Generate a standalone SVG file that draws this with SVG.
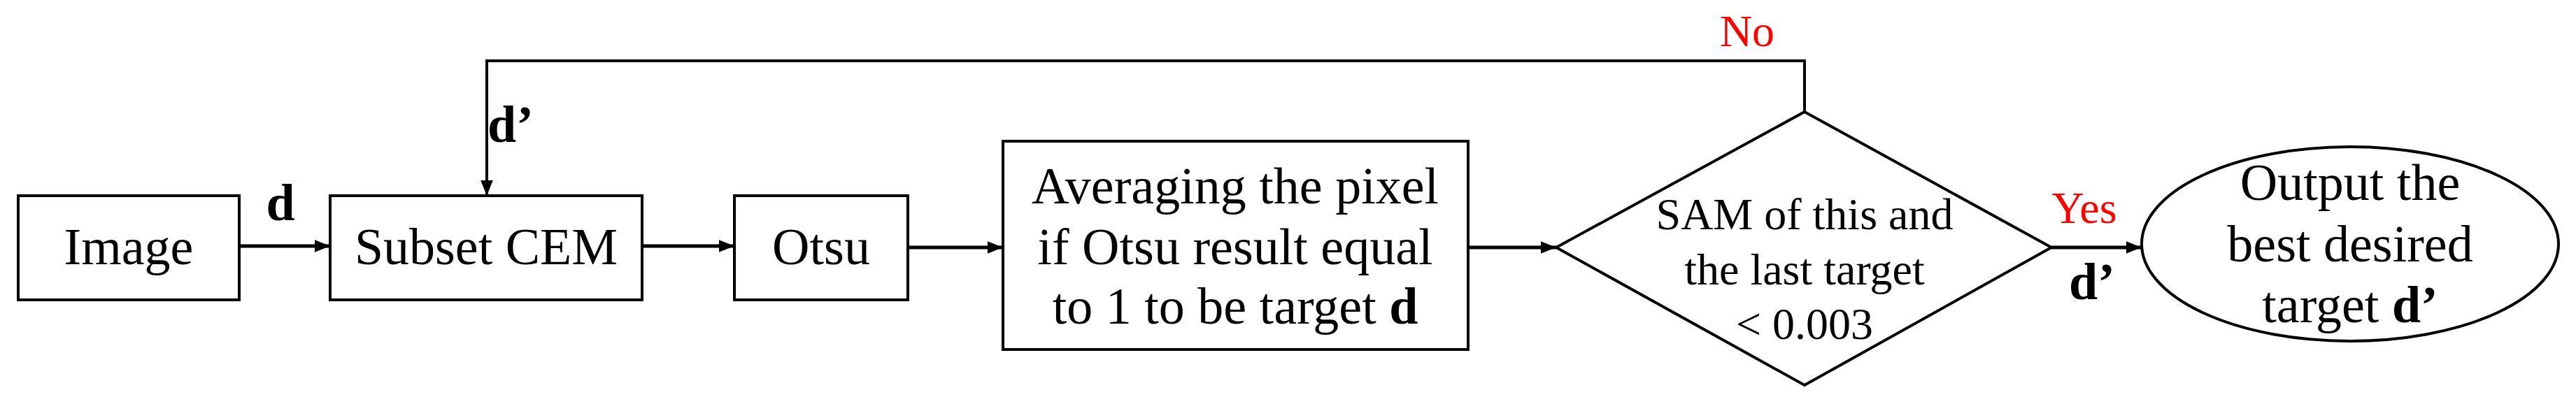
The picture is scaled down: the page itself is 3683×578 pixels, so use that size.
<svg xmlns="http://www.w3.org/2000/svg" width="3683" height="578" viewBox="0 0 3683 578">
<defs>
<marker id="ah" markerWidth="10" markerHeight="8" refX="10" refY="4" orient="auto" markerUnits="userSpaceOnUse"><path d="M0,0 L10,4 L0,8 Z" fill="#000"/></marker>
<marker id="ab" viewBox="0 0 10 8" markerWidth="22" markerHeight="18" refX="10" refY="4" orient="auto" markerUnits="userSpaceOnUse"><path d="M0,0 L10,4 L0,8 Z" fill="#000"/></marker>
</defs>
<style>
.n{fill:#fff;stroke:#000;stroke-width:4}
.t{font-family:"Liberation Serif",serif;font-size:74px;text-anchor:middle;fill:#000}
.s{font-size:64px}
.b{font-weight:bold}
.r{fill:#f00}
.c{fill:none;stroke:#000;stroke-width:5}
.l{fill:none;stroke:#000;stroke-width:4}
</style>
<rect width="3683" height="578" fill="#fff"/>
<g id="connectors">
<path class="c" d="M342,352 H472" marker-end="url(#ab)"/>
<path class="c" d="M918,352 H1050" marker-end="url(#ab)"/>
<path class="c" d="M1298,354 H1434" marker-end="url(#ab)"/>
<path class="c" d="M2099,354 H2225" marker-end="url(#ab)"/>
<path class="c" d="M2933,354 H3062" marker-end="url(#ab)"/>
<path class="l" d="M2580,160 V87 H696 V280" marker-end="url(#ab)"/>
<text class="t b" x="401" y="315">d</text>
<text class="t b" x="730" y="203">d’</text>
<text class="t r s" x="2498" y="66">No</text>
<text class="t r s" x="2980" y="319">Yes</text>
<text class="t b" x="2991" y="428">d’</text>
</g>
<g id="image"><rect class="n" x="26" y="280" width="316" height="149"/><text class="t" x="184" y="378">Image</text></g>
<g id="subset"><rect class="n" x="472" y="280" width="446" height="149"/><text class="t" x="695" y="378">Subset CEM</text></g>
<g id="otsu"><rect class="n" x="1050" y="280" width="248" height="149"/><text class="t" x="1174" y="378">Otsu</text></g>
<g id="averaging"><rect class="n" x="1434" y="202" width="665" height="298"/>
<text class="t" x="1766" y="291">Averaging the pixel</text>
<text class="t" x="1766" y="378">if Otsu result equal</text>
<text class="t" x="1766" y="463">to 1 to be target <tspan class="b">d</tspan></text></g>
<g id="decision"><polygon class="n" points="2580,160 2933,354 2580,551 2225,354"/>
<text class="t s" x="2580" y="328">SAM of this and</text>
<text class="t s" x="2580" y="407">the last target</text>
<text class="t s" x="2580" y="485">&lt; 0.003</text></g>
<g id="output"><ellipse class="n" cx="3360" cy="349" rx="298" ry="139"/>
<text class="t" x="3360" y="286">Output the</text>
<text class="t" x="3360" y="374">best desired</text>
<text class="t" x="3360" y="461">target <tspan class="b">d’</tspan></text></g>
</svg>
